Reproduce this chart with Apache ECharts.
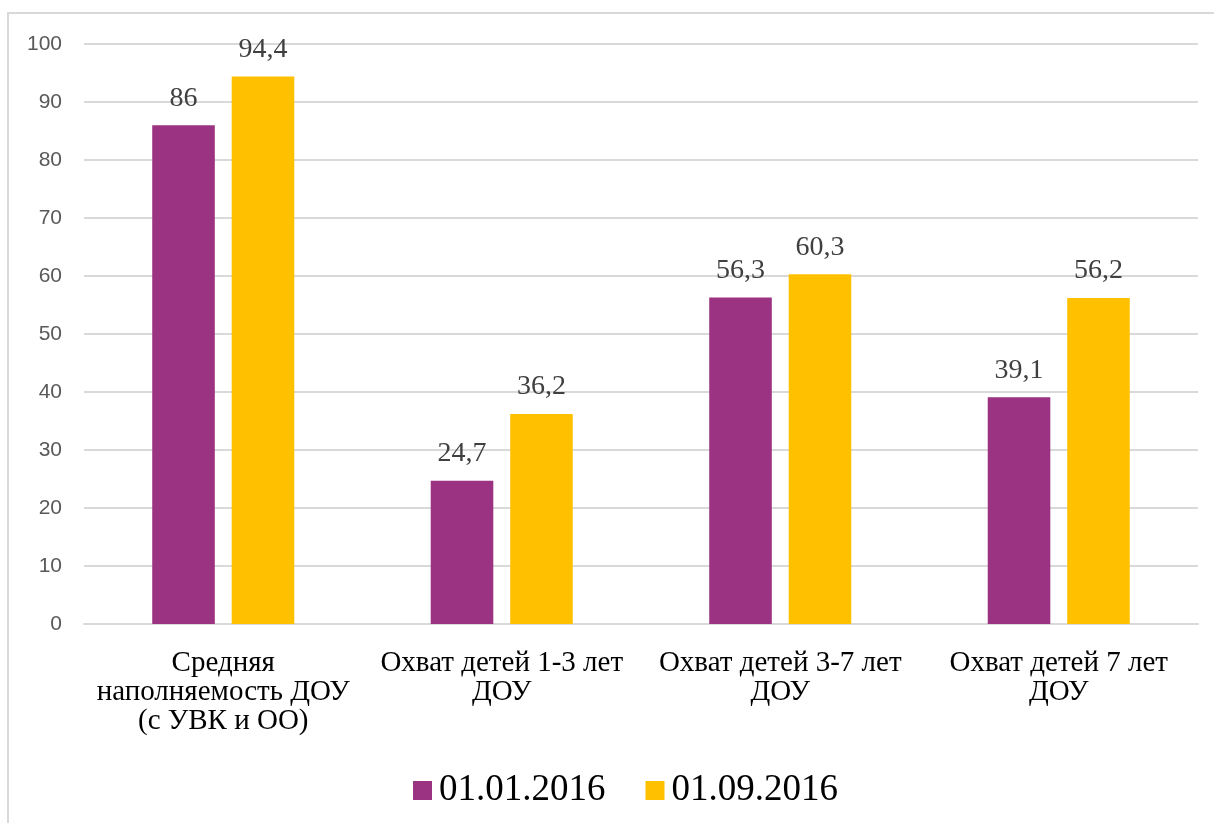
<!DOCTYPE html>
<html>
<head>
<meta charset="utf-8">
<script src="https://cdn.jsdelivr.net/npm/echarts@6/dist/echarts.min.js"></script>
<style>
  html, body { margin: 0; padding: 0; background: #fff; }
  #main { width: 1214px; height: 823px; }
</style>
</head>
<body>
<div id="main"></div>
<script>
// категории и значения
let categories = [
  'Средняя\nнаполняемость ДОУ\n(с УВК и ОО)',
  'Охват детей 1-3 лет\nДОУ',
  'Охват детей 3-7 лет\nДОУ',
  'Охват детей 7 лет\nДОУ'
];
let seriesNames = ['01.01.2016', '01.09.2016'];
let values2016Jan = [86, 24.7, 56.3, 39.1];
let values2016Sep = [94.4, 36.2, 60.3, 56.2];

let colors = ['#9B3282', '#FFC000'];
let serif = '"Liberation Serif", "DejaVu Serif", serif';

let myChart = echarts.init(document.getElementById('main'));

function labelFmt(p) {
  return String(p.value).replace('.', ',');
}

let option = {
  animation: false,
  graphic: [{
    type: 'rect',
    shape: { x: 8, y: 13, width: 1230, height: 830 },
    style: { fill: 'none', stroke: '#d9d9d9', lineWidth: 2 },
    silent: true
  }],
  grid: { left: 84, right: 16, top: 44, bottom: 199 },
  legend: {
    bottom: 9,
    left: 408,
    itemWidth: 19,
    itemHeight: 19,
    itemGap: 40,
    icon: 'rect',
    textStyle: { fontFamily: serif, fontSize: 37, color: '#000', padding: [0, 0, 0, 2] },
    data: seriesNames
  },
  xAxis: {
    type: 'category',
    data: categories,
    axisTick: { show: false },
    axisLine: { lineStyle: { color: '#d9d9d9', width: 2 } },
    axisLabel: {
      interval: 0,
      margin: 25,
      fontFamily: serif,
      fontSize: 29,
      lineHeight: 29,
      color: '#000'
    }
  },
  yAxis: {
    type: 'value',
    min: 0,
    max: 100,
    interval: 10,
    axisLine: { show: false },
    axisTick: { show: false },
    axisLabel: {
      margin: 22,
      fontFamily: '"Liberation Sans", Arial, sans-serif',
      fontSize: 21,
      color: '#595959'
    },
    splitLine: { lineStyle: { color: '#d9d9d9', width: 2 } }
  },
  series: [
    {
      name: seriesNames[0],
      type: 'bar',
      data: values2016Jan,
      barGap: '27%',
      barCategoryGap: '49%',
      itemStyle: { color: colors[0] },
      label: {
        show: true, position: 'top', distance: 13,
        fontFamily: serif, fontSize: 28, color: '#404040',
        formatter: labelFmt
      }
    },
    {
      name: seriesNames[1],
      type: 'bar',
      data: values2016Sep,
      barGap: '27%',
      barCategoryGap: '49%',
      itemStyle: { color: colors[1] },
      label: {
        show: true, position: 'top', distance: 13,
        fontFamily: serif, fontSize: 28, color: '#404040',
        formatter: labelFmt
      }
    }
  ]
};

window.onresize = myChart.resize;
myChart.setOption(option);
</script>
</body>
</html>
